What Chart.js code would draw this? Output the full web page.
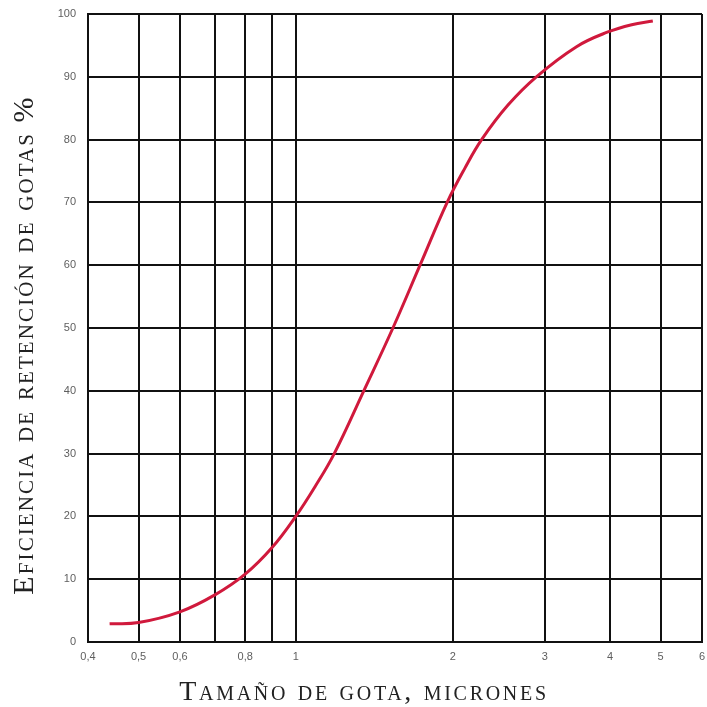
<!DOCTYPE html>
<html>
<head>
<meta charset="utf-8">
<script src="https://cdn.jsdelivr.net/npm/chart.js@4/dist/chart.umd.min.js"></script>
<style>
  html, body { margin: 0; padding: 0; background: #fff; }
  #wrap { width: 707px; height: 707px; }
</style>
</head>
<body>
<div id="wrap"><canvas id="chart"></canvas></div>
<script>
// droplet size (microns) vs retention efficiency (%)
const dropSize = [0.44, 0.5, 0.6, 0.7, 0.8, 0.9, 1.0, 1.09, 1.185, 1.35, 1.535, 1.73, 1.95, 2.11, 2.27, 2.55, 2.89, 3.45, 3.95, 4.4, 4.83];
const efficiency = [2.9, 3.1, 4.8, 7.5, 10.8, 15, 20, 24.8, 30, 40, 50, 60, 70, 75.5, 80, 85.5, 90, 94.8, 97.1, 98.3, 98.9];

const xTickValues = [0.4, 0.5, 0.6, 0.7, 0.8, 0.9, 1, 2, 3, 4, 5, 6];
const xTickLabels = ['0,4', '0,5', '0,6', '', '0,8', '', '1', '2', '3', '4', '5', '6'];
const yTickValues = [0, 10, 20, 30, 40, 50, 60, 70, 80, 90, 100];

const xTitle = 'Tamaño de gota, micrones';
const yTitle = 'Eficiencia de retención de gotas %';

const points = dropSize.map((x, i) => ({ x: x, y: efficiency[i] }));

// axis titles drawn in small caps serif
const titlePlugin = {
    id: 'titles',
    afterDraw(chart) {
        const ctx = chart.ctx;
        ctx.save();
        ctx.fillStyle = '#222';
        ctx.textAlign = 'center';
        ctx.textBaseline = 'alphabetic';
        ctx.font = 'small-caps 28px "Liberation Serif"';
        ctx.fontVariantCaps = 'small-caps';
        ctx.letterSpacing = '2.7px';
        ctx.fillText(xTitle, 364, 700);
        ctx.translate(33, 345);
        ctx.rotate(-Math.PI / 2);
        ctx.font = 'small-caps 30px "Liberation Serif"';
        ctx.fontVariantCaps = 'small-caps';
        ctx.letterSpacing = '2.1px';
        ctx.fillText(yTitle, 0, 0);
        ctx.restore();
    }
};

new Chart(document.getElementById('chart'), {
    type: 'scatter',
    data: {
        datasets: [{
            data: points,
            showLine: true,
            borderColor: '#d0193c',
            borderWidth: 3,
            pointRadius: 0,
            tension: 0.4
        }]
    },
    options: {
        responsive: true,
        maintainAspectRatio: false,
        animation: false,
        layout: { padding: { top: 14, right: 5, left: 0, bottom: 0 } },
        plugins: {
            legend: { display: false },
            tooltip: { enabled: false }
        },
        scales: {
            x: {
                type: 'logarithmic',
                min: 0.4,
                max: 6,
                afterBuildTicks(scale) {
                    scale.ticks = xTickValues.map(v => ({ value: v }));
                },
                afterFit(scale) {
                    scale.height = 65;
                    scale.paddingLeft = 0;
                    scale.paddingRight = 0;
                },
                ticks: {
                    autoSkip: false,
                    maxRotation: 0,
                    padding: 8,
                    color: '#5e5e5e',
                    font: { family: '"Liberation Sans", Arial, sans-serif', size: 11 },
                    callback: function (value, index) { return xTickLabels[index]; }
                },
                grid: { color: '#111', lineWidth: 2, drawTicks: false },
                border: { color: '#111', width: 2 }
            },
            y: {
                min: 0,
                max: 100,
                afterBuildTicks(scale) {
                    scale.ticks = yTickValues.map(v => ({ value: v }));
                },
                afterFit(scale) {
                    scale.width = 88;
                    scale.paddingTop = 0;
                    scale.paddingBottom = 0;
                },
                ticks: {
                    padding: 12,
                    color: '#5e5e5e',
                    font: { family: '"Liberation Sans", Arial, sans-serif', size: 11 }
                },
                grid: { color: '#111', lineWidth: 2, drawTicks: false },
                border: { color: '#111', width: 2 }
            }
        }
    },
    plugins: [titlePlugin]
});
</script>
</body>
</html>
